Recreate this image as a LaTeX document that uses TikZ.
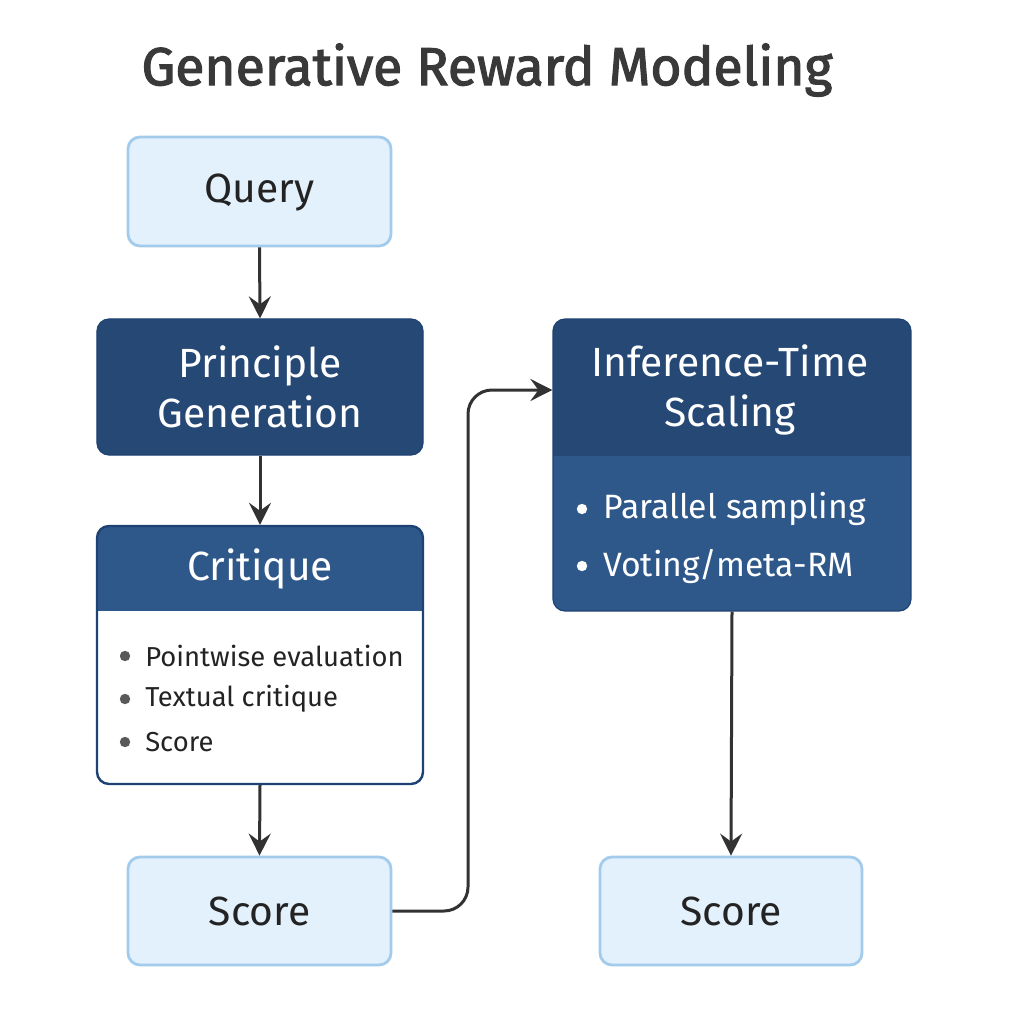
\documentclass[tikz,border=0pt]{standalone}
\usepackage{fontspec}
\setmainfont{Fira Sans}
\newfontfamily\titlefont[FakeBold=2.2]{Fira Sans}
\usetikzlibrary{arrows.meta}
\definecolor{navy}{RGB}{38,72,117}
\definecolor{midblue}{RGB}{46,88,138}
\definecolor{edgeblue}{RGB}{30,66,115}
\definecolor{lightfill}{RGB}{227,241,253}
\definecolor{lightedge}{RGB}{163,203,236}
\definecolor{ink}{RGB}{35,35,35}
\definecolor{arrowc}{RGB}{50,50,50}
\begin{document}
\begin{tikzpicture}[x=0.25mm,y=-0.25mm,
  lightbox/.style={draw=lightedge,line width=0.7mm,fill=lightfill,rounded corners=3mm,text=ink,font=\fontsize{29}{35}\selectfont},
  darkbox/.style={draw=edgeblue,line width=0.3mm,fill=navy,rounded corners=3mm,text=white,align=center,font=\fontsize{29}{35.5}\selectfont},
  flowarrow/.style={draw=arrowc,line width=0.75mm,-{Stealth[length=5.5mm,width=5.5mm,inset=2mm]}},
  ctext/.style={text=ink,font=\fontsize{19.5}{23}\selectfont,anchor=west,inner sep=0pt},
  itext/.style={text=white,font=\fontsize{24}{28}\selectfont,anchor=west,inner sep=0pt}]
\useasboundingbox[fill=white] (0,0) rectangle (1024,1024);
\node[text=ink!90,font=\titlefont\fontsize{38}{44}\selectfont] (title) at (487,70) {Generative Reward Modeling};
% Query
\node[lightbox,minimum width=65.75mm,minimum height=27.25mm] (query) at (259.5,191.5) {};
\node[text=ink,font=\fontsize{29}{35}\selectfont] (querytext) at (259.5,193) {Query};
% Principle generation
\node[darkbox,minimum width=81.5mm,minimum height=34mm] (pg) at (260,387) {Principle\\Generation};
% Critique
\coordinate (critNW) at (97,526);
\coordinate (critSE) at (423,784);
\begin{scope}
\clip[rounded corners=3mm] (critNW) rectangle (critSE);
\fill[white] (critNW) rectangle (critSE);
\fill[midblue] (critNW) rectangle (423,611);
\end{scope}
\node[draw=edgeblue,line width=0.6mm,rounded corners=3mm,minimum width=81.5mm,minimum height=64.5mm,inner sep=0pt] (crit) at (260,655) {};
\node[text=white,font=\fontsize{29}{35}\selectfont] (crittitle) at (260,569) {Critique};
\foreach \y/\t [count=\i] in {656/{Pointwise evaluation},699/{Textual critique},742/{Score}}{
  \fill[black!65] (125,\y) circle (1.3mm);
  \node[ctext] (cb\i) at (145,\y) {\t};
}
% Score left
\node[lightbox,minimum width=65.75mm,minimum height=27mm] (scoreL) at (259.5,911) {};
\node[text=ink,font=\fontsize{29}{35}\selectfont] (scoreLtext) at (259.5,911) {Score};
% Inference-time scaling
\coordinate (infNW) at (553,319);
\coordinate (infSE) at (911,611);
\begin{scope}
\clip[rounded corners=3mm] (infNW) rectangle (infSE);
\fill[midblue] (infNW) rectangle (infSE);
\fill[navy] (infNW) rectangle (911,456);
\end{scope}
\node[draw=edgeblue,line width=0.3mm,rounded corners=3mm,minimum width=89.5mm,minimum height=73mm,inner sep=0pt] (inf) at (732,465) {};
\node[text=white,align=center,font=\fontsize{29}{35.5}\selectfont] (inftitle) at (730,390) {Inference-Time\\Scaling};
\foreach \y/\t [count=\i] in {509/{Parallel sampling},566/{Voting/meta-RM}}{
  \fill[white] (582,\y) circle (1.3mm);
  \node[itext] (ib\i) at (603,\y) {\t};
}
% Score right
\node[lightbox,minimum width=65.5mm,minimum height=27mm] (scoreR) at (731,911) {};
\node[text=ink,font=\fontsize{29}{35}\selectfont] (scoreRtext) at (731,911) {Score};
% arrows
\draw[flowarrow] (query.south) -- (pg.north);
\draw[flowarrow] (pg.south) -- (crit.north);
\draw[flowarrow] (crit.south) -- (scoreL.north);
\draw[flowarrow,rounded corners=6mm] (scoreL.east) -- (468,911) -- (468,390) -- (inf.west |- 0,390);
\draw[flowarrow] (inf.south) -- (scoreR.north);
\end{tikzpicture}
\end{document}
